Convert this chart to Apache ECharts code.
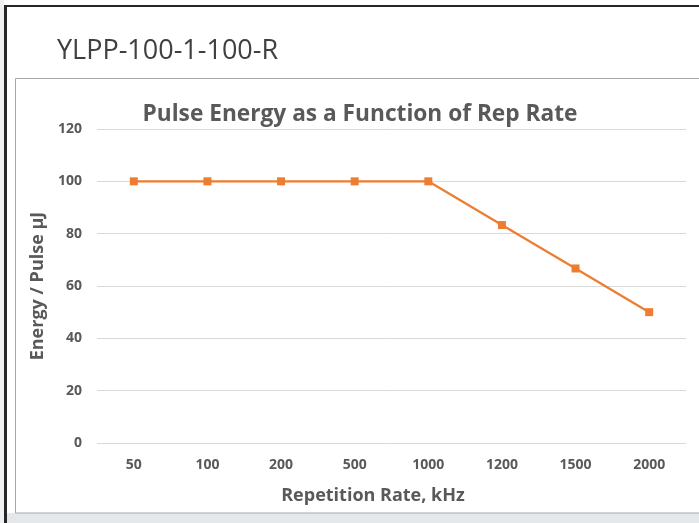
<!DOCTYPE html>
<html lang="en">
<head>
    <meta charset="UTF-8">
    <title>YLPP-100-1-100-R</title>
    <script src="https://cdn.jsdelivr.net/npm/echarts@6/dist/echarts.min.js"></script>
    <style>
        *{
            margin: 0;
            padding: 0;
        }
        .container{
            width: 699px;
            height: 523px;
        }
    </style>
</head>
<body>
<div class="container"></div>
<script>
    let rates = ['50', '100', '200', '500', '1000', '1200', '1500', '2000'];
    let energy = [100, 100, 100, 100, 100, 83.3, 66.7, 50];
    let yTicks = [0, 20, 40, 60, 80, 100, 120];

    let mycharts = echarts.init(document.querySelector('.container'));
    let font = '"Open Sans", "Noto Sans", sans-serif';

    let Option = {
        backgroundColor: '#fff',
        title: {
            text: 'Pulse Energy as a Function of Rep Rate',
            left: 355,
            textAlign: 'center',
            top: 98,
            textStyle: {
                fontFamily: font,
                fontSize: 22.7,
                fontWeight: 'bold',
                color: '#595959'
            }
        },
        graphic: [
            // bottom grey strip
            {type: 'rect', shape: {x: 0, y: 513, width: 699, height: 10}, style: {fill: '#e4e8eb'}, z: -1},
            {type: 'rect', shape: {x: 0, y: 0, width: 4, height: 523}, style: {fill: '#eef0f2'}, z: -1},
            // dark outer frame
            {type: 'rect', shape: {x: 4, y: 5, width: 3, height: 518}, style: {fill: '#262626'}},
            {type: 'rect', shape: {x: 4, y: 5, width: 695, height: 2}, style: {fill: '#262626'}},
            // inner chart frame
            {type: 'rect', shape: {x: 15.5, y: 78.5, width: 700, height: 434.5}, style: {fill: '#fff', stroke: '#a6a6a6', lineWidth: 1}, z: -1},
            {
                type: 'text',
                style: {
                    x: 57,
                    y: 51,
                    text: 'YLPP-100-1-100-R',
                    verticalAlign: 'middle',
                    fontFamily: font,
                    fontSize: 27,
                    fill: '#404040'
                }
            }
        ],
        grid: {
            left: 97,
            right: 13,
            top: 129,
            bottom: 80
        },
        xAxis: {
            type: 'category',
            data: rates,
            name: 'Repetition Rate, kHz',
            nameLocation: 'middle',
            nameGap: 44,
            nameTextStyle: {
                fontFamily: font,
                fontSize: 18,
                fontWeight: 'bold',
                color: '#595959',
                padding: [0, 37, 0, 0]
            },
            axisLine: {show: false},
            axisTick: {show: false},
            axisLabel: {
                margin: 15,
                fontFamily: font,
                fontSize: 14,
                fontWeight: 'bold',
                color: '#595959'
            }
        },
        yAxis: {
            type: 'value',
            min: yTicks[0],
            max: yTicks[yTicks.length - 1],
            interval: 20,
            name: 'Energy / Pulse µJ',
            nameLocation: 'middle',
            nameGap: 50,
            nameTextStyle: {
                fontFamily: font,
                fontSize: 18,
                fontWeight: 'bold',
                color: '#595959'
            },
            axisLabel: {
                margin: 15,
                fontFamily: font,
                fontSize: 14,
                fontWeight: 'bold',
                color: '#595959'
            },
            splitLine: {
                lineStyle: {
                    color: '#d9d9d9',
                    width: 1
                }
            }
        },
        series: [{
            type: 'line',
            data: energy,
            symbol: 'rect',
            symbolSize: 8,
            itemStyle: {color: '#ed7d31'},
            lineStyle: {color: '#ed7d31', width: 2.25},
            animation: false
        }]
    };

    mycharts.setOption(Option);
</script>
</body>
</html>
